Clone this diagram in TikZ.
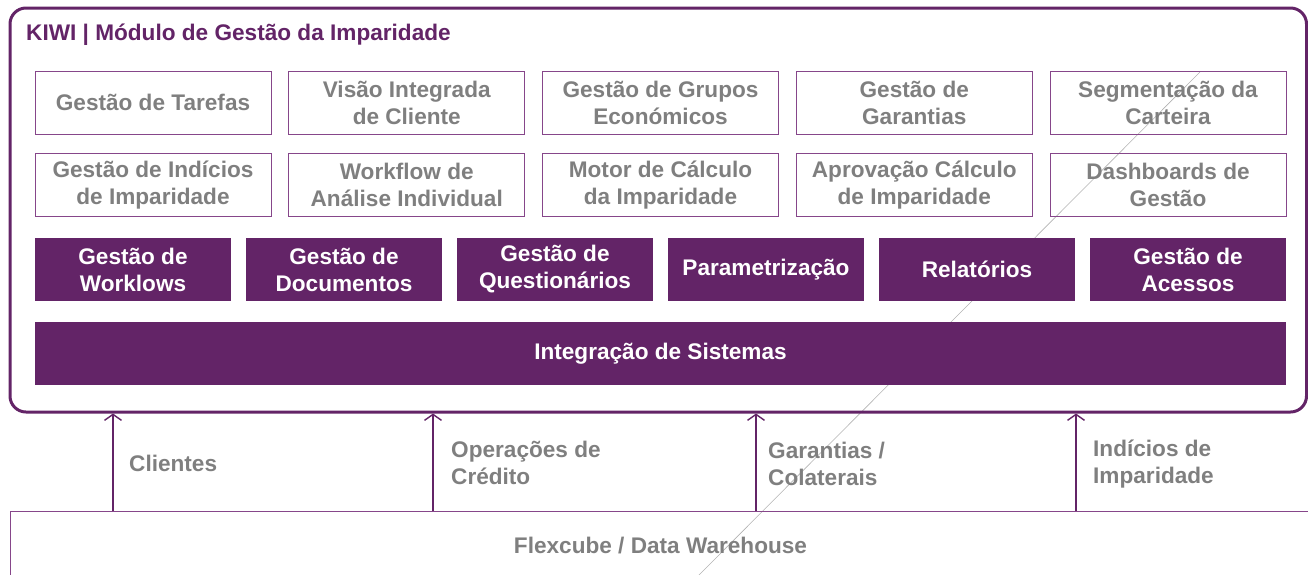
\documentclass[tikz,border=0pt]{standalone}
\usepackage{fontspec}
\setmainfont{Liberation Sans}
\usetikzlibrary{arrows.meta}
\definecolor{kpurple}{HTML}{632467}
\definecolor{ktext}{HTML}{7F7F7F}
\definecolor{kline}{HTML}{86468A}
\begin{document}
\begin{tikzpicture}[x=1pt,y=-1pt,
  kfont/.style={font=\bfseries\fontsize{22.6}{27}\selectfont},
  lightbox/.style={kfont,draw=kline,line width=1pt,minimum width=236pt,minimum height=63pt,inner sep=0pt,align=center,text=ktext},
  darkbox/.style={kfont,fill=kpurple,draw=none,minimum width=196pt,minimum height=63pt,inner sep=0pt,align=center,text=white},
  flowlabel/.style={kfont,text=ktext,align=left,anchor=base west,inner sep=0pt},
  arr/.style={draw=kpurple,line width=1.4pt,-{Straight Barb[length=6pt,width=17pt]}}]
\useasboundingbox (0,0) rectangle (1308,574);
\clip (0,0) rectangle (1308,574);
% thin diagonal artefact line (lies behind the filled boxes)
\coordinate (d1) at (1200,72); \coordinate (d2) at (698,576);
\draw[black!30,line width=0.6pt] (d1) -- (d2);
% outer frame
\node[draw=kpurple,line width=3pt,rounded corners=16pt,minimum width=1296.5pt,minimum height=404pt,inner sep=0pt] (frame) at (658.25,210) {};
\node[kfont,text=kpurple,anchor=base west,inner sep=0pt] (title) at (26,40) {KIWI | Módulo de Gestão da Imparidade};
% row 1
\node[lightbox] (r1a) at (153,102.5) {Gestão de Tarefas};
\node[lightbox] (r1b) at (406.75,102.5) {Visão Integrada\\de Cliente};
\node[lightbox] (r1c) at (660.5,102.5) {Gestão de Grupos\\Económicos};
\node[lightbox] (r1d) at (914.25,102.5) {Gestão de\\Garantias};
\node[lightbox] (r1e) at (1168,102.5) {Segmentação da\\Carteira};
% row 2
\node[lightbox] (r2a) at (153,185) {Gestão de Indícios\\de Imparidade};
\node[lightbox] (r2b) at (406.75,185) {Workflow de\\Análise Individual};
\node[lightbox] (r2c) at (660.5,185) {Motor de Cálculo\\da Imparidade};
\node[lightbox] (r2d) at (914.25,185) {Aprovação Cálculo\\de Imparidade};
\node[lightbox] (r2e) at (1168,185) {Dashboards de\\Gestão};
% row 3
\node[darkbox] (r3a) at (133,269.5) {Gestão de\\Worklows};
\node[darkbox] (r3b) at (344,269.5) {Gestão de\\Documentos};
\node[darkbox] (r3c) at (555,269.5) {Gestão de\\Questionários};
\node[darkbox] (r3d) at (766,269.5) {Parametrização};
\node[darkbox] (r3e) at (977,269.5) {Relatórios};
\node[darkbox] (r3f) at (1188,269.5) {Gestão de\\Acessos};
% integration bar
\node[darkbox,minimum width=1251pt] (integ) at (660.5,353.5) {Integração de Sistemas};
% bottom box
\node[draw=kline,line width=1.3pt,minimum width=1330pt,minimum height=100pt,inner sep=0pt,anchor=north west] (dwbox) at (10,511) {};
\node[kfont,text=ktext,inner sep=0pt] (dw) at (660.5,546) {Flexcube / Data Warehouse};
% arrows
\coordinate (a1s) at (113,511); \coordinate (a1e) at (113,413.5);
\coordinate (a2s) at (433,511); \coordinate (a2e) at (433,413.5);
\coordinate (a3s) at (756,511); \coordinate (a3e) at (756,413.5);
\coordinate (a4s) at (1076,511); \coordinate (a4e) at (1076,413.5);
\draw[arr] (a1s) -- (a1e);
\draw[arr] (a2s) -- (a2e);
\draw[arr] (a3s) -- (a3e);
\draw[arr] (a4s) -- (a4e);
% labels (anchor = baseline of last line)
\node[flowlabel] (l1) at (129,471) {Clientes};
\node[flowlabel] (l2) at (451,484) {Operações de\\Crédito};
\node[flowlabel] (l3) at (768,485) {Garantias /\\Colaterais};
\node[flowlabel] (l4) at (1093,483) {Indícios de\\Imparidade};
\end{tikzpicture}
\end{document}
